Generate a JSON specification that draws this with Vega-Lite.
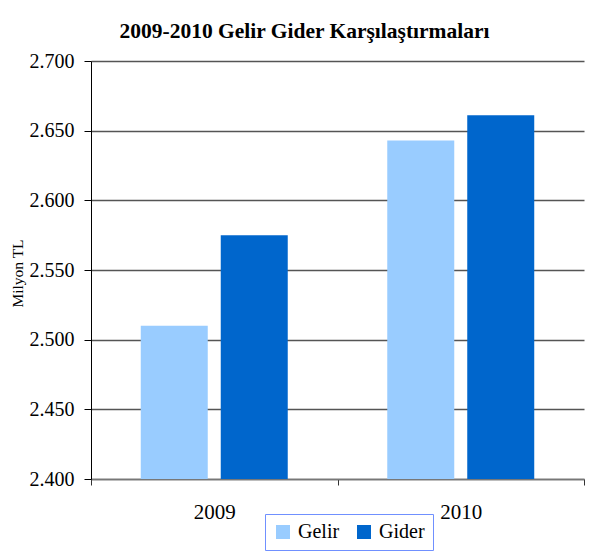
{
  "$schema": "https://vega.github.io/schema/vega-lite/v6.json",
  "width": 493,
  "height": 418,
  "autosize": {"type": "none"},
  "padding": {"left": 91, "top": 61, "right": 16, "bottom": 79},
  "background": "white",
  "config": {
    "locale": {"number": {"decimal": ",", "thousands": ".", "grouping": [3], "currency": ["", " TL"]}},
    "font": "'Liberation Serif', serif",
    "view": {"stroke": null}
  },
  "title": {
    "text": "2009-2010 Gelir Gider Karşılaştırmaları",
    "font": "'Liberation Serif', serif",
    "fontSize": 21.5,
    "fontWeight": "bold",
    "color": "black",
    "anchor": "middle",
    "dx": -33,
    "offset": 9
  },
  "data": {
    "values": [
      {"yil": "2009", "tur": "Gelir", "deger": 2510},
      {"yil": "2009", "tur": "Gider", "deger": 2575},
      {"yil": "2010", "tur": "Gelir", "deger": 2643},
      {"yil": "2010", "tur": "Gider", "deger": 2661}
    ]
  },
  "mark": {"type": "bar", "clip": true},
  "encoding": {
    "x": {
      "field": "yil",
      "type": "nominal",
      "scale": {"paddingInner": 0, "paddingOuter": 0},
      "axis": {
        "title": null,
        "labelAngle": 0,
        "labelFont": "'Liberation Serif', serif",
        "labelFontSize": 21,
        "labelColor": "black",
        "labelPadding": 16,
        "tickBand": "extent",
        "tickSize": 6,
        "tickColor": "#333",
        "domainColor": "#777",
        "domainWidth": 1.5
      }
    },
    "xOffset": {
      "field": "tur",
      "type": "nominal",
      "sort": ["Gelir", "Gider"],
      "scale": {"paddingInner": 0.1625, "paddingOuter": 0.622}
    },
    "y": {
      "field": "deger",
      "type": "quantitative",
      "scale": {"domain": [2400, 2700], "zero": false, "nice": false},
      "axis": {
        "title": "Milyon TL",
        "titleFont": "'Liberation Serif', serif",
        "titleFontSize": 15.5,
        "titleFontWeight": "normal",
        "titleColor": "black",
        "titlePadding": 4,
        "titleY": 212,
        "titleAnchor": "middle",
        "values": [2400, 2450, 2500, 2550, 2600, 2650, 2700],
        "format": ",.0f",
        "labelFont": "'Liberation Serif', serif",
        "labelFontSize": 20,
        "labelColor": "black",
        "labelPadding": 10,
        "tickSize": 7,
        "tickColor": "black",
        "domainColor": "black",
        "grid": true,
        "gridColor": "#555",
        "gridWidth": 1.3
      }
    },
    "color": {
      "field": "tur",
      "type": "nominal",
      "sort": ["Gelir", "Gider"],
      "scale": {"domain": ["Gelir", "Gider"], "range": ["#99CCFF", "#0066CC"]},
      "legend": {
        "title": null,
        "orient": "none",
        "legendX": 174,
        "legendY": 453,
        "direction": "horizontal",
        "symbolType": "square",
        "symbolSize": 196,
        "symbolStrokeWidth": 0,
        "symbolOpacity": 1,
        "labelFont": "'Liberation Serif', serif",
        "labelFontSize": 20,
        "labelColor": "black",
        "labelOffset": 5,
        "columnPadding": 14,
        "padding": 8,
        "strokeColor": "#7090ff",
        "fillColor": "white"
      }
    }
  }
}
